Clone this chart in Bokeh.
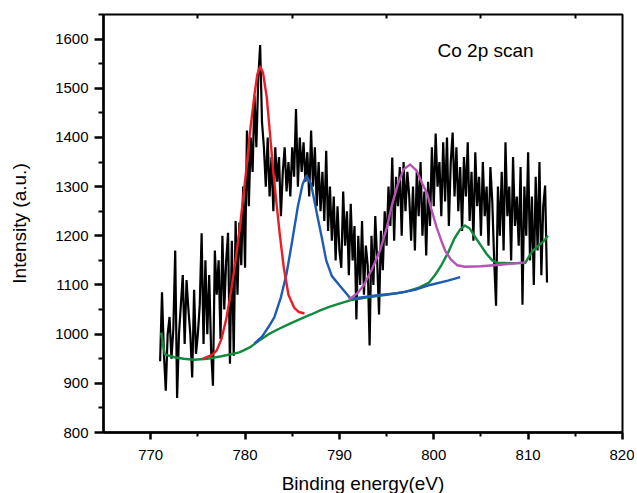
from bokeh.plotting import figure
from bokeh.models import Range1d, FixedTicker, LinearAxis, Label
from bokeh.embed import file_html
from bokeh.resources import INLINE

# ---- data ----
start_energy = 771.0
energy_step = 0.2
counts = [
    945, 1085, 960, 885, 1000, 1035, 950, 1010, 1170, 870,
    1000, 1060, 1120, 980, 1110, 1050, 1000, 912, 1090, 960,
    1000, 1060, 1205, 980, 1150, 1000, 1120, 970, 895, 1170,
    1080, 1150, 990, 1200, 1050, 1150, 1206, 940, 1190, 956,
    1230, 1080, 1227, 1140, 1300, 1135, 1414, 1260, 1400, 1330,
    1485, 1380, 1520, 1588, 1430, 1380, 1300, 1400, 1280, 1360,
    1250, 1380, 1310, 1360, 1240, 1330, 1380, 1290, 1350, 1280,
    1380, 1320, 1458, 1300, 1400, 1330, 1390, 1310, 1370, 1280,
    1414, 1300, 1380, 1260, 1350, 1250, 1330, 1230, 1373, 1210,
    1300, 1190, 1280, 1150, 1260, 1170, 1135, 1290, 1180, 1250,
    1120, 1265, 1150, 1220, 1030, 1200, 1100, 1230, 1080, 1180,
    1140, 977, 1200, 1100, 1240, 1150, 1040, 1210, 1130, 1250,
    1180, 1300, 1220, 1359, 1190, 1320, 1260, 1340, 1200, 1350,
    1250, 1330, 1280, 1190, 1300, 1170, 1330, 1240, 1350, 1200,
    1290, 1160, 1310, 1220, 1380, 1260, 1408, 1300, 1350, 1240,
    1390, 1270, 1400, 1220, 1350, 1410, 1280, 1380, 1250, 1340,
    1210, 1360, 1280, 1390, 1230, 1330, 1190, 1370, 1260, 1320,
    1200, 1350, 1240, 1300, 1180, 1340, 1270, 1150, 1058, 1300,
    1200, 1330, 1170, 1390, 1240, 1300, 1150, 1360, 1220, 1280,
    1180, 1340, 1060, 1300, 1200, 1370, 1150, 1280, 1100, 1320,
    1170, 1350, 1120, 1260, 1302, 1105,
]
energy = [round(start_energy + energy_step * i, 2) for i in range(len(counts))]

# fitted envelopes
green_x = [771.1, 771.5, 772.5, 773.5, 774.6, 776.0, 777.5, 779.4, 780.5, 781.5,
           782.5, 783.5, 784.7, 786.0, 787.0, 787.9, 789.0, 790.0, 791.4, 793.0,
           795.0, 797.0, 798.5, 799.5, 800.2, 800.8, 801.5, 802.2, 802.8, 803.3,
           803.8, 804.4, 805.0, 805.6, 806.2, 806.7, 807.5, 808.5, 809.7, 810.1,
           810.5, 811.1, 811.6, 812.1]
green_y = [1003, 959, 953, 950, 948, 950, 955, 963, 973, 987,
           1000, 1010, 1021, 1032, 1040, 1048, 1056, 1062, 1070, 1075,
           1080, 1086, 1095, 1105, 1122, 1140, 1165, 1195, 1213, 1221,
           1215, 1197, 1180, 1163, 1150, 1145, 1145, 1144, 1145, 1158,
           1170, 1180, 1188, 1200]

blue_x = [781.0, 781.8, 782.5, 783.1, 783.8, 784.4, 785.0, 785.6, 786.1, 786.5,
          787.0, 787.7, 788.2, 788.6, 789.2, 790.2, 791.2, 792.5, 794.0, 796.0,
          798.0, 799.6, 801.5, 802.8]
blue_y = [981, 995, 1015, 1034, 1075, 1123, 1190, 1260, 1305, 1322,
          1305, 1237, 1190, 1150, 1118, 1095, 1072, 1075, 1079, 1083,
          1090, 1100, 1109, 1116]

magenta_x = [791.0, 791.9, 792.6, 793.4, 794.3, 795.0, 795.6, 796.2, 796.8, 797.5,
             798.2, 798.8, 799.3, 799.8, 800.3, 800.8, 801.2, 801.8, 802.5, 803.3,
             805.0, 807.0, 809.0, 809.7]
magenta_y = [1070, 1083, 1100, 1130, 1170, 1215, 1265, 1305, 1335, 1345,
             1332, 1305, 1286, 1250, 1217, 1190, 1170, 1152, 1140, 1137,
             1138, 1141, 1145, 1146]

red_x = [775.5, 776.5, 777.0, 777.5, 778.0, 778.5, 779.0, 779.5, 780.1, 780.5,
         781.0, 781.3, 781.6, 781.9, 782.3, 782.65, 783.0, 783.3, 783.7, 784.1,
         784.6, 785.2, 785.7, 786.3]
red_y = [950, 958, 967, 990, 1030, 1085, 1150, 1225, 1329, 1406,
         1487, 1528, 1544, 1532, 1482, 1406, 1329, 1272, 1200, 1136,
         1080, 1054, 1045, 1042]

x_ticks = [770, 780, 790, 800, 810, 820]
x_minor = [775, 785, 795, 805, 815]
y_ticks = [800, 900, 1000, 1100, 1200, 1300, 1400, 1500, 1600]
y_minor = [850, 950, 1050, 1150, 1250, 1350, 1450, 1550, 1650]

FONT = "Liberation Sans"

p = figure(frame_width=519, frame_height=418,
           x_range=Range1d(765, 820), y_range=Range1d(800, 1650),
           output_backend="svg", toolbar_location=None,
           min_border_left=103, min_border_right=12,
           min_border_top=14, min_border_bottom=58)
p.background_fill_color = "white"
p.border_fill_color = "white"
p.xgrid.visible = False
p.ygrid.visible = False
p.outline_line_color = "black"
p.outline_line_width = 2
p.outline_line_alpha = 1

for ax in (p.xaxis[0], p.yaxis[0]):
    ax.axis_line_width = 2.5
    ax.major_tick_line_width = 2.5
    ax.minor_tick_line_width = 2
    ax.major_tick_in = 0
    ax.minor_tick_in = 0
    ax.major_label_text_font = FONT
    ax.major_label_text_font_size = "15px"
    ax.major_label_text_color = "black"
    ax.axis_label_text_font = FONT
    ax.axis_label_text_font_size = "19px"
    ax.axis_label_text_font_style = "normal"
    ax.axis_label_text_color = "black"

p.xaxis.ticker = FixedTicker(ticks=x_ticks, minor_ticks=x_minor)
p.xaxis.major_tick_out = 7
p.xaxis.minor_tick_out = 4
p.xaxis.major_label_standoff = 10
p.xaxis.axis_label = "Binding energy(eV)"
p.xaxis.axis_label_standoff = 10

p.yaxis.ticker = FixedTicker(ticks=y_ticks, minor_ticks=y_minor)
p.yaxis.major_tick_out = 9
p.yaxis.minor_tick_out = 5
p.yaxis.major_label_standoff = 6
p.yaxis.axis_label = "Intensity (a.u.)"
p.yaxis.axis_label_standoff = 22

top = LinearAxis(ticker=FixedTicker(ticks=[], minor_ticks=x_minor))
top.axis_line_color = None
top.major_label_text_font_size = "0px"
top.major_tick_line_color = None
top.minor_tick_in = 4
top.minor_tick_out = 0
top.minor_tick_line_width = 2
p.add_layout(top, "above")

p.line(energy, counts, line_color="black", line_width=2.2)
p.line(green_x, green_y, line_color="#13893D", line_width=2.4, line_join="round")
p.line(blue_x, blue_y, line_color="#1F5BB5", line_width=2.4, line_join="round")
p.line(magenta_x, magenta_y, line_color="#B553B4", line_width=2.4, line_join="round")
p.line(red_x, red_y, line_color="#EC1C24", line_width=2.4, line_join="round")

p.add_layout(Label(x=800.4, y=1576, text="Co 2p scan", text_font=FONT,
                   text_font_size="19px", text_baseline="middle",
                   text_align="left", text_color="black"))

open("out.html", "w").write(file_html(p, INLINE))
